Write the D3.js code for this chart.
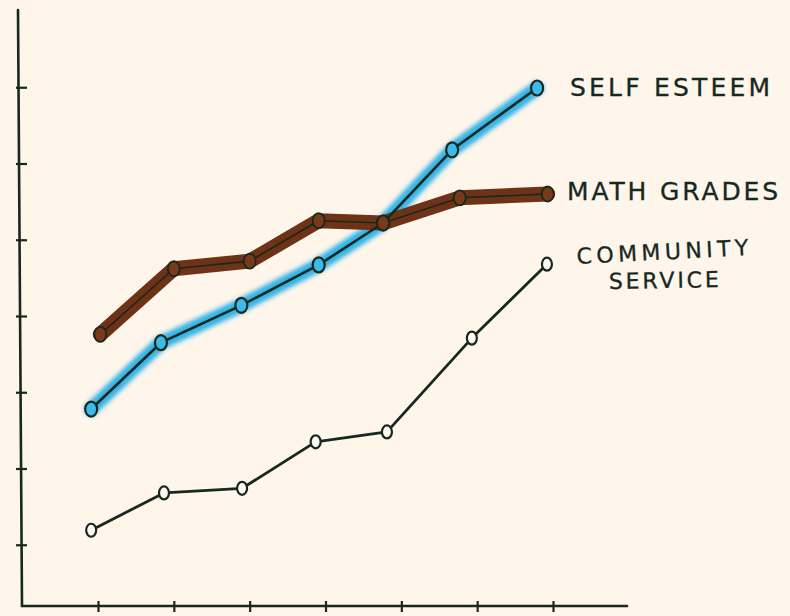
<!DOCTYPE html>
<html><head><meta charset="utf-8">
<script src="https://cdn.jsdelivr.net/npm/d3@7"></script>
<style>html,body{margin:0;padding:0;background:#fef5eb;}svg{display:block;}</style>
</head><body>
<svg id="chart" width="790" height="616"></svg>
<script>
// ---- data ----
const xTicks = [0, 1, 2, 3, 4, 5, 6];
const yTicks = [1, 2, 3, 4, 5, 6, 7];
const selfEsteemX = [-0.09, 0.83, 1.89, 2.91, 3.76, 4.67, 5.79];
const selfEsteemY = [2.78, 3.65, 4.14, 4.67, 5.22, 6.18, 6.99];
const mathX = [0.03, 1.00, 2.00, 2.91, 3.76, 4.77, 5.93];
const mathY = [3.76, 4.62, 4.72, 5.25, 5.22, 5.55, 5.60];
const communityX = [-0.09, 0.87, 1.90, 2.87, 3.81, 4.93, 5.92];
const communityY = [1.19, 1.68, 1.74, 2.35, 2.48, 3.71, 4.68];
const labels = ["SELF ESTEEM", "MATH GRADES", "COMMUNITY", "SERVICE"];

const ink = "#17281f";
const svg = d3.select("#chart");
svg.append("rect").attr("width", 790).attr("height", 616).attr("fill", "#fef5eb");

const defs = svg.append("defs");
defs.append("filter").attr("id", "glow").attr("x", "-10%").attr("y", "-10%").attr("width", "120%").attr("height", "120%")
  .append("feGaussianBlur").attr("stdDeviation", 2);
defs.append("filter").attr("id", "soft")
  .append("feGaussianBlur").attr("stdDeviation", 0.7);

const x = d3.scaleLinear().domain([0, 6]).range([98, 553]);
const y = d3.scaleLinear().domain([0, 8]).range([621, 11]);

// axes
const yAxis = svg.append("g").attr("transform", "translate(20,0)")
  .call(d3.axisLeft(y).tickValues(yTicks).tickSize(4).tickFormat(""));
yAxis.select(".domain").remove();
yAxis.selectAll(".tick line").attr("x1", 7).attr("x2", -4).attr("stroke", ink).attr("stroke-width", 2.2);
svg.append("line").attr("x1", 18).attr("y1", 10).attr("x2", 22).attr("y2", 606)
  .attr("stroke", ink).attr("stroke-width", 2.6).attr("stroke-linecap", "round");

const xAxis = svg.append("g").attr("transform", "translate(0,605)")
  .call(d3.axisBottom(x).tickValues(xTicks).tickSize(6).tickFormat(""));
xAxis.select(".domain").remove();
xAxis.selectAll(".tick line").attr("y1", -4).attr("y2", 7).attr("stroke", ink).attr("stroke-width", 2.2);
svg.append("line").attr("x1", 22).attr("y1", 606).attr("x2", 627).attr("y2", 606)
  .attr("stroke", ink).attr("stroke-width", 2.6).attr("stroke-linecap", "round");

const line = d3.line().x(d => x(d[0])).y(d => y(d[1]));
const selfPts = selfEsteemX.map((v, i) => [v, selfEsteemY[i]]);
const mathPts = mathX.map((v, i) => [v, mathY[i]]);
const commPts = communityX.map((v, i) => [v, communityY[i]]);

// community service
svg.append("path").attr("d", line(commPts)).attr("fill", "none")
  .attr("stroke", ink).attr("stroke-width", 2.8).attr("stroke-linejoin", "round");
svg.selectAll(".cpt").data(commPts).enter().append("ellipse")
  .attr("cx", d => x(d[0])).attr("cy", d => y(d[1])).attr("rx", 5).attr("ry", 6.5)
  .attr("fill", "#fffaf3").attr("stroke", ink).attr("stroke-width", 2.2);

// self esteem (blue glow)
svg.append("path").attr("d", line(selfPts)).attr("fill", "none")
  .attr("stroke", "#35b4e6").attr("stroke-width", 14).attr("stroke-linejoin", "round").attr("stroke-linecap", "round")
  .attr("filter", "url(#glow)");

// math grades (brown)
svg.append("path").attr("d", line(mathPts)).attr("fill", "none")
  .attr("stroke", "#6e3214").attr("stroke-width", 15).attr("stroke-linejoin", "round").attr("stroke-linecap", "round")
  .attr("filter", "url(#soft)");

svg.append("path").attr("d", line(selfPts)).attr("fill", "none")
  .attr("stroke", ink).attr("stroke-width", 2.6).attr("stroke-linejoin", "round");
svg.append("path").attr("d", line(mathPts)).attr("fill", "none")
  .attr("stroke", ink).attr("stroke-width", 1.6).attr("stroke-linejoin", "round");

svg.selectAll(".spt").data(selfPts).enter().append("ellipse")
  .attr("cx", d => x(d[0])).attr("cy", d => y(d[1])).attr("rx", 6).attr("ry", 7.5)
  .attr("fill", "#3bbbe9").attr("stroke", ink).attr("stroke-width", 2.2);
svg.selectAll(".mpt").data(mathPts).enter().append("ellipse")
  .attr("cx", d => x(d[0])).attr("cy", d => y(d[1])).attr("rx", 6).attr("ry", 7.5)
  .attr("fill", "#7a3a1a").attr("stroke", ink).attr("stroke-width", 1.8);

// labels
const lab = [
  {t: labels[0], x: 570, y: 96, w: 200, rot: 0, fs: 25},
  {t: labels[1], x: 567, y: 200, w: 211, rot: 0, fs: 25},
  {t: labels[2], x: 577, y: 264, w: 172, rot: -3, fs: 22},
  {t: labels[3], x: 609, y: 289, w: 110, rot: -1, fs: 22}
];
svg.selectAll(".lab").data(lab).enter().append("text")
  .attr("x", d => d.x).attr("y", d => d.y)
  .attr("transform", d => `rotate(${d.rot},${d.x},${d.y})`)
  .attr("textLength", d => d.w).attr("lengthAdjust", "spacing")
  .attr("font-family", "'DejaVu Sans', sans-serif").attr("font-size", d => d.fs)
  .attr("fill", ink).attr("stroke", ink).attr("stroke-width", 0.3)
  .text(d => d.t);
</script>
</body></html>
